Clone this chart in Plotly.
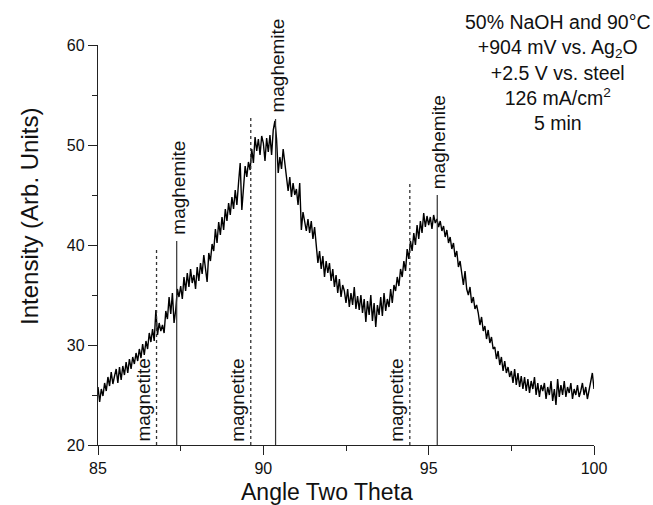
import numpy as np
import plotly.graph_objects as go

# Angle (two theta), step 0.05 from 85 to 100
angle_start = 85.0
angle_step = 0.05
intensity = [
    25.8, 24.3, 25.6, 24.9, 26.2, 25.4, 26.8, 25.9, 27.3, 26.1,
    26.9, 27.6, 26.2, 27.8, 26.5, 27.9, 27.0, 28.3, 27.2, 28.6,
    27.6, 28.8, 28.1, 29.2, 28.4, 29.6, 28.7, 30.1, 29.0, 30.4,
    29.6, 31.2, 30.3, 31.6, 30.4, 33.5, 31.0, 32.2, 31.4, 32.0,
    31.2, 33.4, 32.6, 34.8, 33.1, 35.2, 32.2, 33.5, 35.6, 34.8,
    35.9, 34.6, 36.8, 35.4, 37.2, 35.8, 37.6, 36.2, 37.0, 35.6,
    37.8, 36.4, 38.2, 37.1, 39.0, 37.6, 36.3, 39.2, 38.4, 40.1,
    39.4, 41.6, 40.2, 42.3, 41.0, 42.8, 41.5, 43.6, 42.4, 44.2,
    43.0, 44.8, 43.6, 45.5, 44.0, 46.2, 48.2, 43.5, 45.8, 47.9,
    46.8, 48.3, 47.5, 49.6, 48.2, 50.8, 49.4, 50.6, 49.0, 50.9,
    50.2, 48.4, 50.7, 49.3, 51.0, 49.0, 51.5, 52.4, 50.6, 47.2,
    48.8, 47.6, 49.6, 48.2, 47.0, 45.4, 46.8, 44.8, 46.2, 45.0,
    45.6, 44.0, 46.2, 41.5, 43.3, 42.1, 41.4, 42.6, 41.2, 42.4,
    40.6, 41.8, 40.1, 38.2, 39.4, 37.6, 38.9, 36.8, 38.4, 37.2,
    38.2, 36.4, 37.6, 35.8, 37.0, 35.2, 36.6, 34.8, 36.0, 35.4,
    34.2, 35.6, 33.8, 35.2, 34.0, 35.8, 33.6, 34.9, 33.5, 35.0,
    33.2, 34.6, 32.3, 34.4, 33.0, 35.0, 32.4, 34.2, 31.8, 34.0,
    33.0, 34.8, 32.9, 35.2, 33.4, 34.6, 33.8, 35.6, 34.2, 36.0,
    35.4, 36.8, 35.9, 37.6, 36.8, 38.4, 37.4, 39.6, 38.6, 40.4,
    39.4, 41.2, 40.0, 42.0, 40.6, 42.4, 41.2, 43.2, 41.8, 42.9,
    42.0, 42.8, 41.6, 43.0, 42.2, 42.6, 41.8, 42.4, 41.4, 41.9,
    40.8, 41.5, 40.2, 40.8, 39.6, 40.2, 38.8, 39.4, 37.8, 38.4,
    37.2, 36.0, 37.4, 35.6, 35.0, 35.8, 34.2, 34.8, 33.6, 34.0,
    33.2, 32.0, 32.8, 31.4, 31.9, 30.6, 31.5, 30.2, 30.8, 29.6,
    29.8, 28.6, 29.4, 28.0, 28.8, 27.4, 28.4, 27.2, 27.8, 26.8,
    27.4, 26.2, 27.6, 26.0, 27.2, 25.8, 26.9, 25.6, 26.8, 25.4,
    26.6, 25.2, 26.4, 25.6, 26.8, 25.0, 26.2, 24.8, 26.0, 25.4,
    26.2, 24.6, 25.8, 25.0, 26.4, 24.4, 25.6, 24.0, 26.6, 24.8,
    26.0, 25.0, 26.4, 24.8, 25.8, 25.2, 26.2, 24.6, 25.6, 25.0,
    26.0, 24.8, 25.4, 26.2, 25.0, 25.8, 24.6, 25.6, 26.4, 27.2,
    25.6,
]
angle = [round(angle_start + i * angle_step, 3) for i in range(len(intensity))]

magnetite_pos = [86.77, 89.62, 94.43]
magnetite_top = [39.5, 52.8, 46.3]
maghemite_pos = [87.38, 90.37, 95.26]
maghemite_top = [40.4, 52.6, 45.0]

x_ticks = [85, 90, 95, 100]
y_ticks = [20, 30, 40, 50, 60]

info_lines = ["50% NaOH and 90°C", "+904 mV vs. Ag<sub>2</sub>O", "+2.5 V vs. steel",
              "126 mA/cm<sup>2</sup>", "5 min"]

FONT = "Liberation Sans, Arial, sans-serif"

fig = go.Figure()
fig.add_trace(go.Scatter(x=angle, y=intensity, mode="lines",
                         line=dict(color="black", width=1.4), showlegend=False,
                         hoverinfo="skip"))

mx, my = [], []
for p, t in zip(magnetite_pos, magnetite_top):
    mx += [p, p, None]
    my += [20, t, None]
fig.add_trace(go.Scatter(x=mx, y=my, mode="lines",
                         line=dict(color="#333", width=1.3, dash="dot"), showlegend=False))
hx, hy = [], []
for p, t in zip(maghemite_pos, maghemite_top):
    hx += [p, p, None]
    hy += [20, t, None]
fig.add_trace(go.Scatter(x=hx, y=hy, mode="lines",
                         line=dict(color="#333", width=1.2), showlegend=False))

annotations = []
for p in magnetite_pos:
    annotations.append(dict(x=p, y=20, xref="x", yref="y", text="magnetite", textangle=-90,
                            showarrow=False, xanchor="right", yanchor="bottom",
                            xshift=-1, yshift=1, font=dict(family=FONT, size=19, color="#111")))
for p, t in zip(maghemite_pos, maghemite_top):
    annotations.append(dict(x=p, y=t, xref="x", yref="y", text="maghemite", textangle=-90,
                            showarrow=False, xanchor="center", yanchor="bottom",
                            xshift=1, yshift=4, font=dict(family=FONT, size=19, color="#111")))
annotations.append(dict(x=98.9, y=57.3, xref="x", yref="y", text="<br>".join(info_lines),
                        showarrow=False, xanchor="center", yanchor="middle", align="center",
                        font=dict(family=FONT, size=19.5, color="#111")))
annotations.append(dict(x=91.92, y=0, xref="x", yref="paper", text="Angle Two Theta",
                        showarrow=False, xanchor="center", yanchor="middle", yshift=-47,
                        font=dict(family=FONT, size=23, color="#111")))
annotations.append(dict(x=0, y=42.8, xref="paper", yref="y", text="Intensity (Arb. Units)",
                        textangle=-90, showarrow=False, xanchor="center", yanchor="middle",
                        xshift=-69, font=dict(family=FONT, size=24, color="#111")))

axis_common = dict(showgrid=False, zeroline=False, showline=True, linecolor="#222",
                   linewidth=1.4, ticks="outside", ticklen=9, tickwidth=1.3, tickcolor="#222",
                   tickfont=dict(family=FONT, size=16, color="#111"), mirror=False)

fig.update_layout(
    width=653, height=505,
    margin=dict(l=98, r=59, t=45, b=60),
    plot_bgcolor="white", paper_bgcolor="white",
    xaxis=dict(range=[85, 100], tickvals=x_ticks,
               minor=dict(ticks="outside", ticklen=5, tickwidth=1.2, tickcolor="#222", dtick=2.5, tick0=85),
               **axis_common),
    yaxis=dict(range=[20, 60], tickvals=y_ticks,
               minor=dict(ticks="outside", ticklen=5, tickwidth=1.2, tickcolor="#222", dtick=5, tick0=20),
               **axis_common),
    annotations=annotations,
)

fig.write_html("out.html")
